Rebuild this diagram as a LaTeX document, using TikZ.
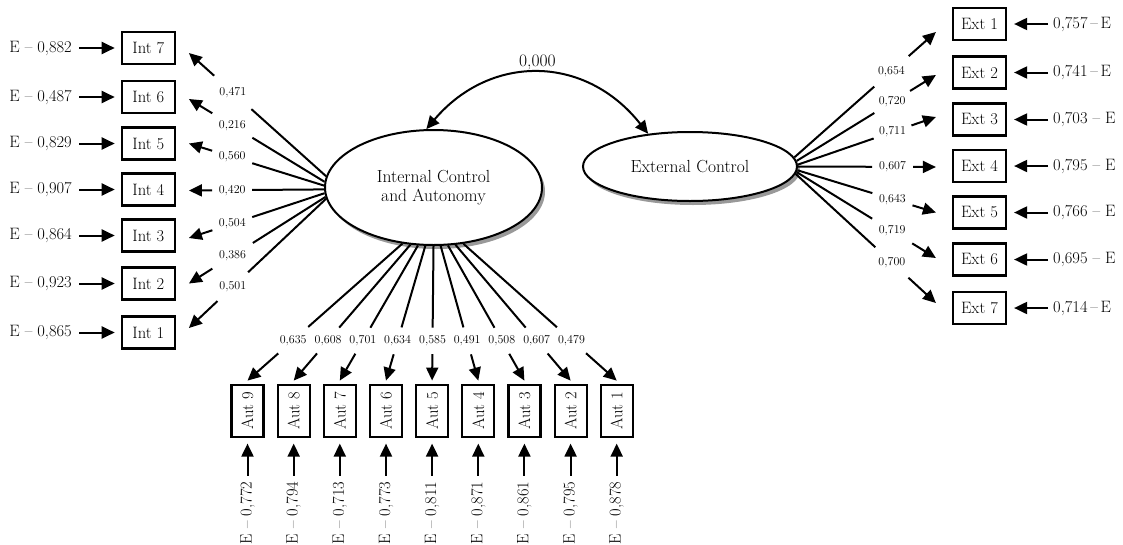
\documentclass[tikz,border=0pt]{standalone}
\usetikzlibrary{arrows.meta,shapes.geometric,shadows}
\newcommand{\fsA}{\fontsize{16.5}{19}\selectfont}
\newcommand{\fsB}{\fontsize{17.5}{19}\selectfont}
\newcommand{\fsC}{\fontsize{12}{14}\selectfont}
% loading connector: start, end, pos, label name, label text, half gap
\newcommand{\ldarr}[6]{%
  \path (#1) -- (#2) node[ld,pos=#3] (#4) {#5};
  \draw[ln,shorten >=#6] (#1) -- (#4.center);
  \draw[ln,->,shorten <=#6] (#4.center) -- (#2);}
\begin{document}
\begin{tikzpicture}[x=1pt,y=-1pt,
  >={Triangle[length=13pt,width=12pt]},
  ln/.style={line width=2pt},
  mv/.style={draw,line width=2.2pt,minimum width=53pt,minimum height=32pt,inner sep=0pt,font=\fsA},
  autv/.style={mv,minimum width=52pt,minimum height=32pt,rotate=90},
  lv/.style={ellipse,draw,line width=2pt,fill=white,inner sep=0pt,align=center,font=\fsB,
     drop shadow={shadow xshift=3pt,shadow yshift=-4pt,fill=black!40,opacity=1}},
  er/.style={inner sep=0pt,font=\fsA},
  ld/.style={inner sep=0pt,font=\fsC},
]
\useasboundingbox (0,0) rectangle (1123,544);

% latent variables
\node[lv,minimum width=217pt,minimum height=115pt] (ie) at (433.5,187.5) {Internal Control\\and Autonomy};
\node[lv,minimum width=214pt,minimum height=69pt] (ee) at (690,166.5) {External Control};

% covariance
\draw[ln,<->] (ie.97) .. controls (490,54) and (585,54) .. (ee.142)
  node[pos=0.5,above=2pt,font=\fsB,inner sep=0pt] (cov) {0,000};

% Int boxes
\node[mv] (int7) at (148.3,48) {Int 7};
\node[mv] (int6) at (148.3,97) {Int 6};
\node[mv] (int5) at (148.3,143.5) {Int 5};
\node[mv] (int4) at (148.3,189.5) {Int 4};
\node[mv] (int3) at (148.3,235.5) {Int 3};
\node[mv] (int2) at (148.3,283.5) {Int 2};
\node[mv] (int1) at (148.3,332.5) {Int 1};

\node[er,anchor=east] (ei7) at (72,48) {E – 0,882};
\node[er,anchor=east] (ei6) at (72,97) {E – 0,487};
\node[er,anchor=east] (ei5) at (72,143.5) {E – 0,829};
\node[er,anchor=east] (ei4) at (72,189.5) {E – 0,907};
\node[er,anchor=east] (ei3) at (72,235.5) {E – 0,864};
\node[er,anchor=east] (ei2) at (72,283.5) {E – 0,923};
\node[er,anchor=east] (ei1) at (72,332.5) {E – 0,865};
\foreach \i in {1,...,7}{
  \draw[ln,->,shorten <=7pt,shorten >=6pt] (ei\i.east) -- (int\i.west);
}

% Ext boxes
\node[mv] (ext1) at (979.5,24) {Ext 1};
\node[mv] (ext2) at (979.5,72.5) {Ext 2};
\node[mv] (ext3) at (979.5,119.5) {Ext 3};
\node[mv] (ext4) at (979.5,166) {Ext 4};
\node[mv] (ext5) at (979.5,212.5) {Ext 5};
\node[mv] (ext6) at (979.5,259.5) {Ext 6};
\node[mv] (ext7) at (979.5,308) {Ext 7};

\node[er,anchor=west] (ex1) at (1053,24) {0,757\,–\,E};
\node[er,anchor=west] (ex2) at (1053,72.5) {0,741\,–\,E};
\node[er,anchor=west] (ex3) at (1053,119.5) {0,703 – E};
\node[er,anchor=west] (ex4) at (1053,166) {0,795 – E};
\node[er,anchor=west] (ex5) at (1053,212.5) {0,766 – E};
\node[er,anchor=west] (ex6) at (1053,259.5) {0,695 – E};
\node[er,anchor=west] (ex7) at (1053,308) {0,714\,–\,E};
\foreach \i in {1,...,7}{
  \draw[ln,->,shorten <=5pt,shorten >=7pt] (ex\i.west) -- (ext\i.east);
}

% Aut boxes
\node[autv] (aut9) at (247.5,411) {Aut 9};
\node[autv] (aut8) at (293.7,411) {Aut 8};
\node[autv] (aut7) at (339.8,411) {Aut 7};
\node[autv] (aut6) at (386,411) {Aut 6};
\node[autv] (aut5) at (432.1,411) {Aut 5};
\node[autv] (aut4) at (478.3,411) {Aut 4};
\node[autv] (aut3) at (524.4,411) {Aut 3};
\node[autv] (aut2) at (570.6,411) {Aut 2};
\node[autv] (aut1) at (616.7,411) {Aut 1};

\node[er,rotate=90] (ea9) at (247.5,513) {E – 0,772};
\node[er,rotate=90] (ea8) at (293.7,513) {E – 0,794};
\node[er,rotate=90] (ea7) at (339.8,513) {E – 0,713};
\node[er,rotate=90] (ea6) at (386,513) {E – 0,773};
\node[er,rotate=90] (ea5) at (432.1,513) {E – 0,811};
\node[er,rotate=90] (ea4) at (478.3,513) {E – 0,871};
\node[er,rotate=90] (ea3) at (524.4,513) {E – 0,861};
\node[er,rotate=90] (ea2) at (570.6,513) {E – 0,795};
\node[er,rotate=90] (ea1) at (616.7,513) {E – 0,878};
\foreach \i in {1,...,9}{
  \draw[ln,->,shorten <=6pt,shorten >=5.5pt] (ea\i.east) -- (aut\i.west);
}

% loadings: Internal -> Int
\ldarr{ie.174.9}{[xshift=13pt,yshift=-5pt]int7.east}{0.68}{li7}{0,471}{25pt}
\ldarr{ie.177.1}{[xshift=13pt,yshift=-2pt]int6.east}{0.68}{li6}{0,216}{23.5pt}
\ldarr{ie.179.2}{[xshift=13pt]int5.east}{0.68}{li5}{0,560}{21pt}
\ldarr{ie.181.7}{[xshift=13pt,yshift=-1pt]int4.east}{0.68}{li4}{0,420}{20pt}
\ldarr{ie.183.5}{[xshift=13pt,yshift=-2.5pt]int3.east}{0.68}{li3}{0,504}{21pt}
\ldarr{ie.185.1}{[xshift=13pt]int2.east}{0.68}{li2}{0,386}{24pt}
\ldarr{ie.186.7}{[xshift=13pt,yshift=4.5pt]int1.east}{0.68}{li1}{0,501}{21pt}

% loadings: External -> Ext
\ldarr{ee.5}{[xshift=-16pt,yshift=-8pt]ext1.west}{0.686}{lx1}{0,654}{23pt}
\ldarr{ee.3.26}{[xshift=-16pt,yshift=-2.5pt]ext2.west}{0.686}{lx2}{0,720}{21pt}
\ldarr{ee.1.88}{[xshift=-16pt,yshift=2.5pt]ext3.west}{0.686}{lx3}{0,711}{20pt}
\ldarr{ee.0.43}{[xshift=-16pt,yshift=-1pt]ext4.west}{0.686}{lx4}{0,607}{20.5pt}
\ldarr{ee.358.9}{[xshift=-16pt]ext5.west}{0.686}{lx5}{0,643}{21pt}
\ldarr{ee.357.6}{[xshift=-16pt,yshift=1.5pt]ext6.west}{0.686}{lx6}{0,719}{23.5pt}
\ldarr{ee.356.2}{[xshift=-16pt,yshift=5pt]ext7.west}{0.686}{lx7}{0,700}{22.5pt}

% loadings: Internal -> Aut
\ldarr{ie.241.7}{[yshift=3.3pt]aut9.east}{0.705}{la9}{0,635}{20pt}
\ldarr{ie.248.4}{[yshift=3.3pt]aut8.east}{0.705}{la8}{0,608}{17pt}
\ldarr{ie.255.4}{[yshift=3.3pt]aut7.east}{0.705}{la7}{0,701}{15pt}
\ldarr{ie.262.6}{[yshift=3.3pt]aut6.east}{0.705}{la6}{0,634}{14pt}
\ldarr{ie.270}{[yshift=3.3pt]aut5.east}{0.705}{la5}{0,585}{13.3pt}
\ldarr{ie.277.4}{[yshift=3.3pt]aut4.east}{0.705}{la4}{0,491}{14pt}
\ldarr{ie.284.6}{[yshift=3.3pt]aut3.east}{0.705}{la3}{0,508}{15pt}
\ldarr{ie.291.6}{[yshift=3.3pt]aut2.east}{0.705}{la2}{0,607}{17pt}
\ldarr{ie.298.3}{[yshift=3.3pt]aut1.east}{0.705}{la1}{0,479}{19.5pt}
\end{tikzpicture}
\end{document}
